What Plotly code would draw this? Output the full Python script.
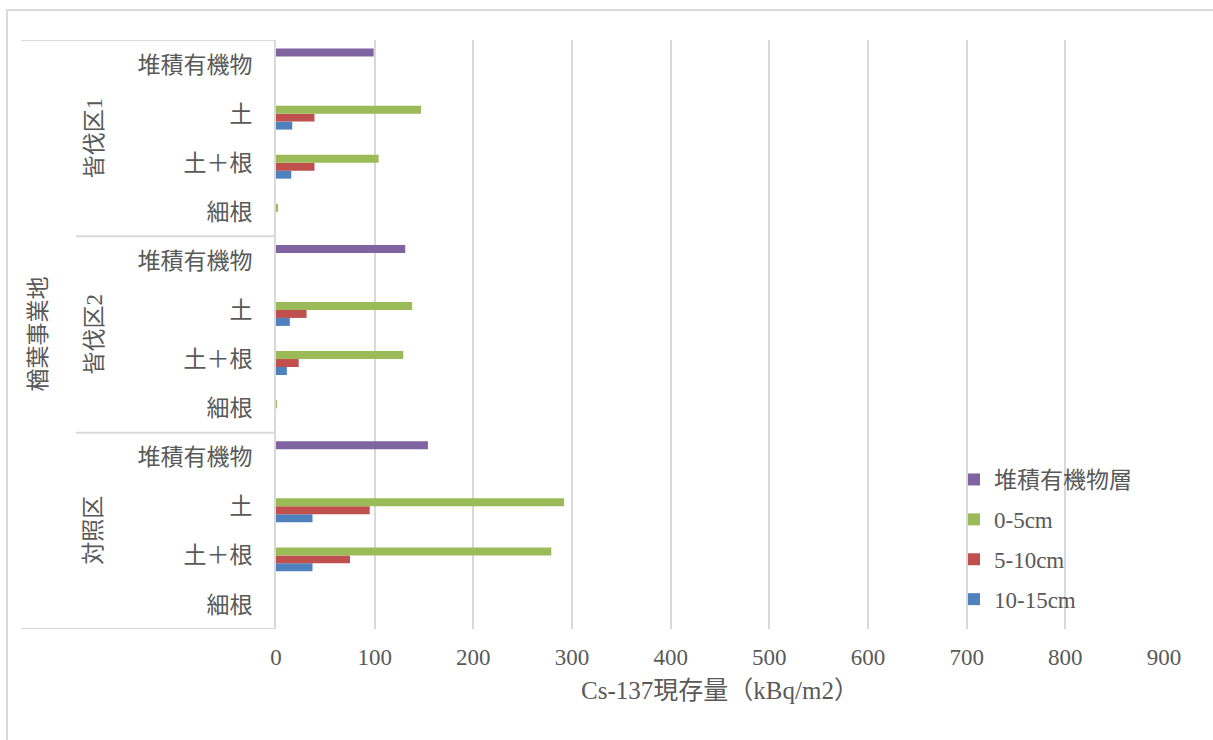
import plotly.graph_objects as go

# Category layout (bottom to top, as drawn on the vertical axis)
site = "楢葉事業地"
plots = ["対照区", "皆伐区2", "皆伐区1"]
samples = ["細根", "土＋根", "土", "堆積有機物"]

# Cs-137 inventory (kBq/m2), one value per (plot, sample), bottom to top
humus_layer = [None, None, None, 154, None, None, None, 131, None, None, None, 99]
depth_0_5 = [0, 279, 292, None, 1, 129, 138, None, 1.5, 104, 147, None]
depth_5_10 = [0, 75, 95, None, 0, 23, 31, None, 0, 39, 39, None]
depth_10_15 = [0, 37, 37, None, 0, 11, 14, None, 0, 15.5, 16.5, None]

x_ticks = [0, 100, 200, 300, 400, 500, 600, 700, 800, 900]
x_title = "Cs-137現存量（kBq/m2）"

series = [
    ("10-15cm", depth_10_15, "#4f81bd"),
    ("5-10cm", depth_5_10, "#c0504d"),
    ("0-5cm", depth_0_5, "#9bbb59"),
    ("堆積有機物層", humus_layer, "#8064a2"),
]

n_cat = len(plots) * len(samples)
ypos = list(range(n_cat))
ticktext = [s for _ in plots for s in samples]

TXT = "#595959"
LINE = "#d9d9d9"
FONT = "Liberation Serif, Noto Sans CJK JP, sans-serif"

fig = go.Figure()
for i, (name, vals, col) in enumerate(series):
    fig.add_trace(go.Bar(
        y=ypos, x=vals, name=name, orientation="h",
        marker=dict(color=col, line=dict(width=0)),
        legendgroup=f"g{i}", legendrank=100 - i,
    ))

# pixel geometry of the plot area
W, H = 1213, 740
L, R, T, B = 276, 1213 - 1164, 40, 740 - 629
pw, ph = W - L - R, H - T - B


def px_to_paper_x(px):
    return (px - L) / pw


def px_to_paper_y(py):
    return (H - B - py) / ph


shapes = []
# chart frame
shapes.append(dict(type="rect", xref="paper", yref="paper",
                   x0=px_to_paper_x(7), x1=px_to_paper_x(1225),
                   y0=px_to_paper_y(752), y1=px_to_paper_y(10),
                   line=dict(color=LINE, width=2), layer="below"))
# multi-level category boundaries
shapes.append(dict(type="line", xref="paper", yref="y",
                   x0=px_to_paper_x(21), x1=0, y0=n_cat - 0.5, y1=n_cat - 0.5,
                   line=dict(color=LINE, width=2)))
shapes.append(dict(type="line", xref="paper", yref="y",
                   x0=px_to_paper_x(21), x1=0, y0=-0.5, y1=-0.5,
                   line=dict(color=LINE, width=2)))
for g in range(1, len(plots)):
    yb = g * len(samples) - 0.5
    shapes.append(dict(type="line", xref="paper", yref="y",
                       x0=px_to_paper_x(76), x1=0, y0=yb, y1=yb,
                       line=dict(color=LINE, width=2)))

annotations = []
for g, name in enumerate(plots):
    yc = g * len(samples) + (len(samples) - 1) / 2
    annotations.append(dict(text=name, xref="paper", yref="y",
                            x=px_to_paper_x(94), y=yc, textangle=-90,
                            showarrow=False, xanchor="center", yanchor="middle",
                            font=dict(family=FONT, size=23, color=TXT)))
annotations.append(dict(text=site, xref="paper", yref="y",
                        x=px_to_paper_x(38), y=(n_cat - 1) / 2, textangle=-90,
                        showarrow=False, xanchor="center", yanchor="middle",
                        font=dict(family=FONT, size=23, color=TXT)))

fig.update_layout(
    width=W, height=H,
    margin=dict(l=L, r=R, t=T, b=B),
    paper_bgcolor="white", plot_bgcolor="white",
    barmode="group", bargap=0.35, bargroupgap=0,
    font=dict(family=FONT, size=23, color=TXT),
    shapes=shapes, annotations=annotations,
    legend=dict(
        x=px_to_paper_x(954), y=px_to_paper_y(458),
        xanchor="left", yanchor="top",
        traceorder="grouped", tracegroupgap=7,
        bgcolor="rgba(0,0,0,0)", font=dict(family=FONT, size=23, color=TXT),
    ),
    xaxis=dict(
        range=[0, 900], tickvals=x_ticks, ticktext=[str(v) for v in x_ticks],
        showgrid=True, gridcolor=LINE, gridwidth=2, zeroline=False,
        showline=False, ticks="", ticklabelstandoff=12,
        tickfont=dict(family=FONT, size=23, color=TXT),
        title=dict(text=x_title, standoff=12,
                   font=dict(family=FONT, size=25, color=TXT)),
    ),
    yaxis=dict(
        range=[-0.5, n_cat - 0.5], tickvals=ypos, ticktext=ticktext,
        showgrid=False, zeroline=False, showline=True, linecolor=LINE,
        linewidth=2, ticks="", ticklabelstandoff=17,
        tickfont=dict(family=FONT, size=23, color=TXT),
    ),
)

fig.write_html("out.html")
